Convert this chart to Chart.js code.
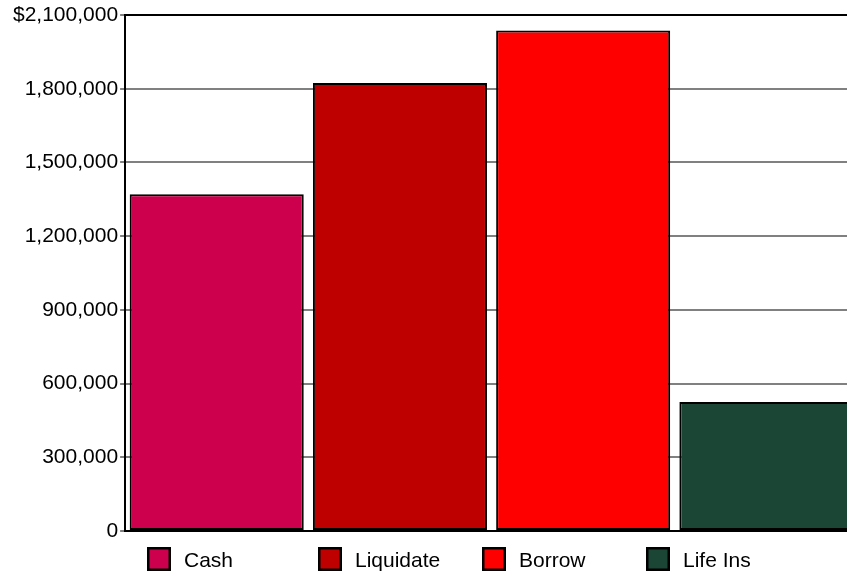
<!DOCTYPE html>
<html>
<head>
<meta charset="utf-8">
<script src="https://cdn.jsdelivr.net/npm/chart.js@4.4.0/dist/chart.umd.min.js"></script>
<style>
  html, body { margin: 0; padding: 0; background: #fff; overflow: hidden; }
  #wrap { width: 862px; height: 575px; }
</style>
</head>
<body>
<div id="wrap"><canvas id="chart" width="862" height="575"></canvas></div>
<script>
// values
const categories = ['Cash', 'Liquidate', 'Borrow', 'Life Ins'];
const values = [1370000, 1823000, 2037000, 525000];
const colors = ['#cc004c', '#bf0000', '#ff0000', '#1b4535'];
const yTicks = [0, 300000, 600000, 900000, 1200000, 1500000, 1800000, 2100000];

const FONT = "'Liberation Sans', Arial, sans-serif";

// legend drawn under the plot, fixed slots like the original
const bottomLegend = {
  id: 'bottomLegend',
  afterDraw(chart) {
    const ctx = chart.ctx;
    const slots = [147, 318, 482, 646];
    ctx.save();
    ctx.font = '21px ' + FONT;
    ctx.textBaseline = 'middle';
    categories.forEach((c, i) => {
      const x = slots[i], y = 547;
      ctx.fillStyle = colors[i];
      ctx.fillRect(x, y, 24, 24);
      ctx.lineWidth = 2.5;
      ctx.strokeStyle = '#000';
      ctx.strokeRect(x + 1.25, y + 1.25, 21.5, 21.5);
      ctx.fillStyle = '#000';
      ctx.fillText(c, x + 37, y + 14);
    });
    ctx.restore();
  }
};

new Chart(document.getElementById('chart'), {
  type: 'bar',
  data: {
    labels: categories,
    datasets: [{
      data: values,
      backgroundColor: colors,
      borderColor: '#000',
      borderWidth: 2,
      borderSkipped: false,
      inflateAmount: 0,
      categoryPercentage: 0.95,
      barPercentage: 1
    }]
  },
  options: {
    responsive: false,
    animation: false,
    layout: { padding: { left: 11, top: 15, right: 4, bottom: 36 } },
    plugins: {
      legend: { display: false },
      tooltip: { enabled: false }
    },
    scales: {
      x: {
        grid: { display: false },
        border: { color: '#000', width: 2 },
        ticks: { display: false }
      },
      y: {
        min: 0,
        max: 2100000,
        afterBuildTicks: (axis) => { axis.ticks = yTicks.map(v => ({ value: v })); },
        grid: {
          lineWidth: 2,
          tickLength: 5,
          color: (c) => (c.tick && c.tick.value === 2100000) ? '#000' : '#808080',
          tickColor: '#808080'
        },
        border: { color: '#000', width: 2 },
        ticks: {
          padding: 2,
          color: '#000',
          font: { family: FONT, size: 21 },
          callback: (v) => (v === 2100000 ? '$' : '') + v.toLocaleString('en-US')
        }
      }
    }
  },
  plugins: [bottomLegend]
});
</script>
</body>
</html>
